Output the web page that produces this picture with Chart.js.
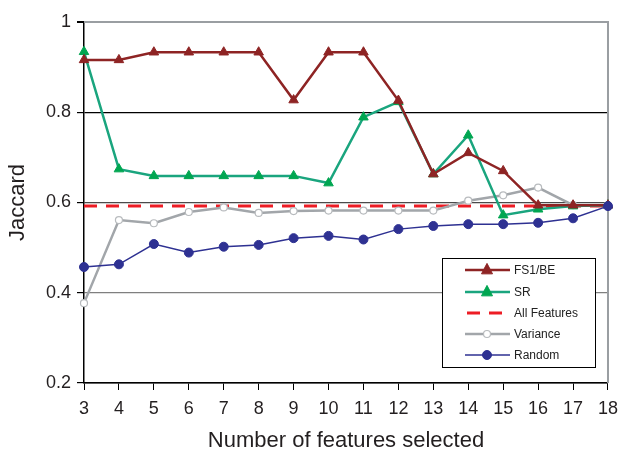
<!DOCTYPE html>
<html>
<head>
<meta charset="utf-8">
<script src="https://cdn.jsdelivr.net/npm/chart.js@4"></script>
<style>
html,body{margin:0;padding:0;background:#fff;}
#wrap{width:626px;height:454px;}
</style>
</head>
<body>
<div id="wrap"><canvas id="c" width="626" height="454"></canvas></div>
<script>
const categories = ['3','4','5','6','7','8','9','10','11','12','13','14','15','16','17','18'];
const fs1be    = [0.916,0.916,0.933,0.933,0.933,0.933,0.827,0.933,0.933,0.826,0.663,0.710,0.670,0.594,0.594,0.594];
const sr       = [0.934,0.674,0.659,0.659,0.659,0.659,0.659,0.643,0.789,0.823,0.663,0.749,0.572,0.585,0.592,0.594];
const allFeat  = [0.592,0.592,0.592,0.592,0.592,0.592,0.592,0.592,0.592,0.592,0.592,0.592,0.592,0.592,0.592,0.592];
const variance = [0.377,0.561,0.554,0.579,0.589,0.577,0.581,0.582,0.582,0.582,0.582,0.604,0.616,0.633,0.594,0.594];
const random   = [0.457,0.463,0.508,0.489,0.502,0.506,0.521,0.526,0.518,0.541,0.548,0.552,0.552,0.555,0.565,0.592];
const yTicks   = [0.2,0.4,0.6,0.8,1];
const seriesNames = ['FS1/BE','SR','All Features','Variance','Random'];

const FONT = '"Liberation Sans", Arial, sans-serif';
const gridColors = {0.2:'#000000',0.4:'#7f7f7f',0.6:'#4a4a4a',0.8:'#000000',1:'#9a9ea2'};

const legendPlugin = {
  id:'boxLegend',
  afterDatasetsDraw(chart){
    const ctx = chart.ctx;
    const bx=442, by=258, bw=153, bh=109;
    ctx.save();
    ctx.fillStyle='#fff';
    ctx.fillRect(bx,by,bw,bh);
    ctx.strokeStyle='#000'; ctx.lineWidth=1;
    ctx.strokeRect(bx+0.5,by+0.5,bw,bh);
    const rows=[270,292,313,334,355];
    chart.data.datasets.forEach((ds,i)=>{
      const y=rows[i];
      ctx.save();
      ctx.strokeStyle=ds.borderColor; ctx.lineWidth=ds.borderWidth;
      ctx.setLineDash(ds.borderDash||[]);
      ctx.beginPath();
      if(ds.borderDash){ctx.moveTo(467,y);ctx.lineTo(510,y);} else {ctx.moveTo(465,y);ctx.lineTo(510,y);}
      ctx.stroke();
      ctx.setLineDash([]);
      if(ds.pointRadius>0){
        ctx.fillStyle=ds.pointBackgroundColor; ctx.strokeStyle=ds.pointBorderColor; ctx.lineWidth=ds.pointBorderWidth;
        ctx.beginPath();
        if(ds.pointStyle==='triangle'){
          const r=ds.pointRadius;
          ctx.moveTo(487,y-r*1.2);ctx.lineTo(487+r,y+r*0.7);ctx.lineTo(487-r,y+r*0.7);ctx.closePath();
        } else {
          ctx.arc(487,y,ds.pointRadius,0,Math.PI*2);
        }
        ctx.fill(); ctx.stroke();
      }
      ctx.restore();
      ctx.fillStyle='#222'; ctx.font='12px '+FONT; ctx.textBaseline='middle'; ctx.textAlign='left';
      ctx.fillText(seriesNames[i],514,y+1);
    });
    ctx.restore();
  }
};

const borderPlugin = {
  id:'frame',
  beforeDatasetsDraw(chart){
    const a=chart.chartArea, ctx=chart.ctx;
    ctx.save();
    ctx.strokeStyle='#9a9ea2'; ctx.lineWidth=2;
    ctx.beginPath();
    ctx.moveTo(a.left,a.top); ctx.lineTo(a.right,a.top); ctx.lineTo(a.right,a.bottom);
    ctx.stroke();
    ctx.restore();
  }
};

new Chart(document.getElementById('c'),{
  type:'line',
  data:{
    labels:categories,
    datasets:[
      {label:seriesNames[0],data:fs1be,borderColor:'#8e2424',backgroundColor:'#8e2424',borderWidth:2.5,
       pointStyle:'triangle',pointRadius:5.5,pointBackgroundColor:'#8e2424',pointBorderColor:'#8e2424',pointBorderWidth:1,tension:0,order:2},
      {label:seriesNames[1],data:sr,borderColor:'#1aa57e',backgroundColor:'#00a651',borderWidth:2.5,
       pointStyle:'triangle',pointRadius:5.5,pointBackgroundColor:'#00a651',pointBorderColor:'#00a651',pointBorderWidth:1,tension:0,order:3},
      {label:seriesNames[2],data:allFeat,borderColor:'#ed1c24',backgroundColor:'#ed1c24',borderWidth:3,borderDash:[13,9],
       pointRadius:0,pointHoverRadius:0,tension:0,order:5},
      {label:seriesNames[3],data:variance,borderColor:'#a2a6aa',backgroundColor:'#ffffff',borderWidth:2.5,
       pointStyle:'circle',pointRadius:3.5,pointBackgroundColor:'#ffffff',pointBorderColor:'#b8bbbe',pointBorderWidth:1.2,tension:0,order:4},
      {label:seriesNames[4],data:random,borderColor:'#2e3192',backgroundColor:'#2e3192',borderWidth:1.5,
       pointStyle:'circle',pointRadius:4.5,pointBackgroundColor:'#2e3192',pointBorderColor:'#2e3192',pointBorderWidth:1,tension:0,order:1}
    ]
  },
  options:{
    responsive:false,
    animation:false,
    devicePixelRatio:1,
    layout:{padding:{left:0,top:22,right:13,bottom:0}},
    plugins:{legend:{display:false},tooltip:{enabled:false}},
    scales:{
      x:{
        type:'category',offset:false,
        grid:{display:true,drawOnChartArea:false,drawTicks:true,tickLength:7,color:'#000',lineWidth:1},
        border:{display:true,color:'#000',width:1.5},
        ticks:{color:'#231f20',font:{family:FONT,size:18},padding:8,maxRotation:0,autoSkip:false},
        title:{display:true,text:'Number of features selected',color:'#231f20',font:{family:FONT,size:22},padding:{top:2,bottom:0}},
        afterFit(s){s.height=71;}
      },
      y:{
        min:0.2,max:1,
        afterBuildTicks(s){s.ticks=yTicks.map(v=>({value:v}));},
        grid:{drawTicks:true,tickLength:7,tickColor:'#000',
          color:(c)=>gridColors[Math.round(c.tick.value*10)/10]||'#888',
          lineWidth:(c)=>(Math.abs(c.tick.value-1)<1e-6?2:1.2)},
        border:{display:true,color:'#000',width:1.5},
        ticks:{color:'#231f20',font:{family:FONT,size:18},padding:6,
          callback:(v)=>String(Math.round(v*10)/10)},
        title:{display:true,text:'Jaccard',color:'#231f20',font:{family:FONT,size:22},padding:{top:5,bottom:0}},
        afterFit(s){s.width=84;}
      }
    }
  },
  plugins:[borderPlugin,legendPlugin]
});
</script>
</body>
</html>
